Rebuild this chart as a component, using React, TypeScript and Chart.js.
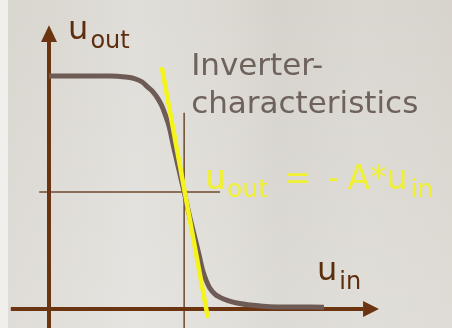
import React, { useEffect, useRef } from "react";
import { Chart, registerables } from "chart.js";

Chart.register(...registerables);

// Inverter transfer characteristic (volts)
const uIn = [
  0, 1.31, 1.63, 1.85, 2.0, 2.12, 2.23, 2.34, 2.42, 2.49, 2.58, 2.68, 2.79, 2.9, 3.0, 3.11, 3.22, 3.3, 3.37,
  3.45, 3.56, 3.67, 3.84, 4.03, 4.38, 4.74, 5.9,
];
const uOut = [
  5.0, 5.0, 4.98, 4.94, 4.87, 4.76, 4.66, 4.51, 4.36, 4.18, 3.91, 3.45, 2.98, 2.51, 2.06, 1.61, 1.16, 0.82, 0.62,
  0.45, 0.32, 0.25, 0.18, 0.13, 0.08, 0.05, 0.04,
];

// Linear gain line u_out = -A*u_in through the switching point
const gainIn = [2.42, 3.41];
const gainOut = [5.19, -0.19];

// Switching point guides
const thresholdIn = 2.9;
const thresholdOut = 2.51;
const vGuideOut = [4.21, -0.41];
const hGuideIn = [-0.21, 3.67];

// Axes: start, arrow base, arrow tip
const yAxisOut = [-0.41, 5.73, 6.09];
const xAxisIn = [-0.82, 6.74, 7.08];

// Visible window of the plane
const X_MIN = -1.0515;
const X_MAX = 8.648;
const Y_MIN = -0.4077;
const Y_MAX = 6.631;

const FONT = '"DejaVu Sans", Verdana, sans-serif';

type Run = { text: string; size: number; dy?: number; gap?: number };
type Label = { x: number; y: number; color: string; runs: Run[] };

const LABELS: Label[] = [
  { x: 0.41, y: 5.79, color: "#5c2e0e", runs: [{ text: "u", size: 32 }, { text: "out", size: 24, dy: 9, gap: 2 }] },
  { x: 5.75, y: 0.62, color: "#5c2e0e", runs: [{ text: "u", size: 32 }, { text: "in", size: 24, dy: 9, gap: 2 }] },
  { x: 3.05, y: 5.02, color: "#6e625b", runs: [{ text: "Inverter-", size: 31 }] },
  { x: 3.05, y: 4.21, color: "#6e625b", runs: [{ text: "characteristics", size: 31 }] },
  {
    x: 3.35,
    y: 2.575,
    color: "#f0f034",
    runs: [
      { text: "u", size: 33 },
      { text: "out", size: 25, dy: 8, gap: 1 },
      { text: "=", size: 33, gap: 16 },
      { text: "-", size: 33, gap: 16 },
      { text: "A*u", size: 33, gap: 8 },
      { text: "in", size: 25, dy: 8, gap: 3 },
    ],
  },
];

const pts = (xs: number[], ys: number[]) => xs.map((x, i) => ({ x, y: ys[i] }));

const backgroundPlugin = {
  id: "paper",
  beforeDraw(chart: any) {
    const { ctx, width, height } = chart;
    ctx.save();
    const g = ctx.createLinearGradient(0, 0, width, 0);
    g.addColorStop(0, "#d9d5cf");
    g.addColorStop(0.15, "#dcd9d3");
    g.addColorStop(0.3, "#e0ded9");
    g.addColorStop(0.5, "#dcd9d3");
    g.addColorStop(0.62, "#d6d3cd");
    g.addColorStop(0.8, "#dad7d1");
    g.addColorStop(1, "#d8d4cd");
    ctx.fillStyle = g;
    ctx.fillRect(0, 0, width, height);
    const v = ctx.createLinearGradient(0, 0, 0, height);
    v.addColorStop(0, "rgba(255,255,255,0)");
    v.addColorStop(1, "rgba(255,255,255,0.18)");
    ctx.fillStyle = v;
    ctx.fillRect(0, 0, width, height);
    ctx.fillStyle = "#f1efeb";
    ctx.fillRect(0, 0, 8, height);
    ctx.restore();
  },
};

const arrowPlugin = {
  id: "axisArrows",
  afterDatasetsDraw(chart: any) {
    const { ctx } = chart;
    chart.data.datasets.forEach((ds: any, i: number) => {
      if (!ds.arrow) return;
      const els = chart.getDatasetMeta(i).data;
      const a = els[els.length - 2];
      const b = els[els.length - 1];
      const ang = Math.atan2(b.y - a.y, b.x - a.x);
      const len = Math.hypot(b.x - a.x, b.y - a.y);
      ctx.save();
      ctx.translate(b.x, b.y);
      ctx.rotate(ang);
      ctx.beginPath();
      ctx.moveTo(0, 0);
      ctx.lineTo(-len, -8);
      ctx.lineTo(-len, 8);
      ctx.closePath();
      ctx.fillStyle = ds.borderColor;
      ctx.fill();
      ctx.restore();
    });
  },
};

const labelPlugin = {
  id: "labels",
  afterDatasetsDraw(chart: any) {
    const { ctx, scales } = chart;
    ctx.save();
    ctx.textBaseline = "alphabetic";
    ctx.textAlign = "left";
    LABELS.forEach((lab) => {
      let x = scales.x.getPixelForValue(lab.x);
      const y = scales.y.getPixelForValue(lab.y);
      ctx.fillStyle = lab.color;
      lab.runs.forEach((r) => {
        ctx.font = `${r.size}px ${FONT}`;
        x += r.gap || 0;
        ctx.fillText(r.text, x, y + (r.dy || 0));
        x += ctx.measureText(r.text).width;
      });
    });
    ctx.restore();
  },
};

export default function App() {
  const ref = useRef<HTMLCanvasElement | null>(null);

  useEffect(() => {
    document.body.style.margin = "0";
    const canvas = ref.current;
    if (!canvas) return;
    const line = (extra: any) => ({
      showLine: true,
      pointRadius: 0,
      pointHoverRadius: 0,
      fill: false,
      ...extra,
    });
    const chart = new Chart(canvas, {
      type: "scatter",
      data: {
        datasets: [
          line({
            label: "gain",
            data: pts(gainIn, gainOut),
            borderColor: "#f4f41c",
            borderWidth: 4.5,
            order: 0,
          }),
          line({
            label: "characteristic",
            data: pts(uIn, uOut),
            borderColor: "#6f5b55",
            borderWidth: 5,
            cubicInterpolationMode: "monotone",
            borderJoinStyle: "round",
            order: 1,
          }),
          line({
            label: "u_out axis",
            data: yAxisOut.map((y) => ({ x: 0, y })),
            borderColor: "#6a3510",
            borderWidth: 4,
            arrow: true,
            segment: { borderColor: (c: any) => (c.p1DataIndex === yAxisOut.length - 1 ? "rgba(0,0,0,0)" : undefined) },
            order: 2,
          }),
          line({
            label: "u_in axis",
            data: xAxisIn.map((x) => ({ x, y: 0 })),
            borderColor: "#6a3510",
            borderWidth: 4,
            arrow: true,
            segment: { borderColor: (c: any) => (c.p1DataIndex === xAxisIn.length - 1 ? "rgba(0,0,0,0)" : undefined) },
            order: 2,
          }),
          line({
            label: "threshold in",
            data: vGuideOut.map((y) => ({ x: thresholdIn, y })),
            borderColor: "#6e4a2c",
            borderWidth: 1.5,
            order: 3,
          }),
          line({
            label: "threshold out",
            data: hGuideIn.map((x) => ({ x, y: thresholdOut })),
            borderColor: "#6e4a2c",
            borderWidth: 1.5,
            order: 3,
          }),
        ],
      },
      options: {
        responsive: false,
        maintainAspectRatio: false,
        animation: false,
        devicePixelRatio: 1,
        events: [],
        layout: { padding: 0 },
        scales: {
          x: { type: "linear", min: X_MIN, max: X_MAX, display: false },
          y: { type: "linear", min: Y_MIN, max: Y_MAX, display: false },
        },
        plugins: { legend: { display: false }, tooltip: { enabled: false } },
      },
      plugins: [backgroundPlugin, arrowPlugin, labelPlugin],
    } as any);
    return () => chart.destroy();
  }, []);

  return (
    <div style={{ width: 452, height: 328 }}>
      <canvas ref={ref} width={452} height={328} style={{ display: "block" }} />
    </div>
  );
}
